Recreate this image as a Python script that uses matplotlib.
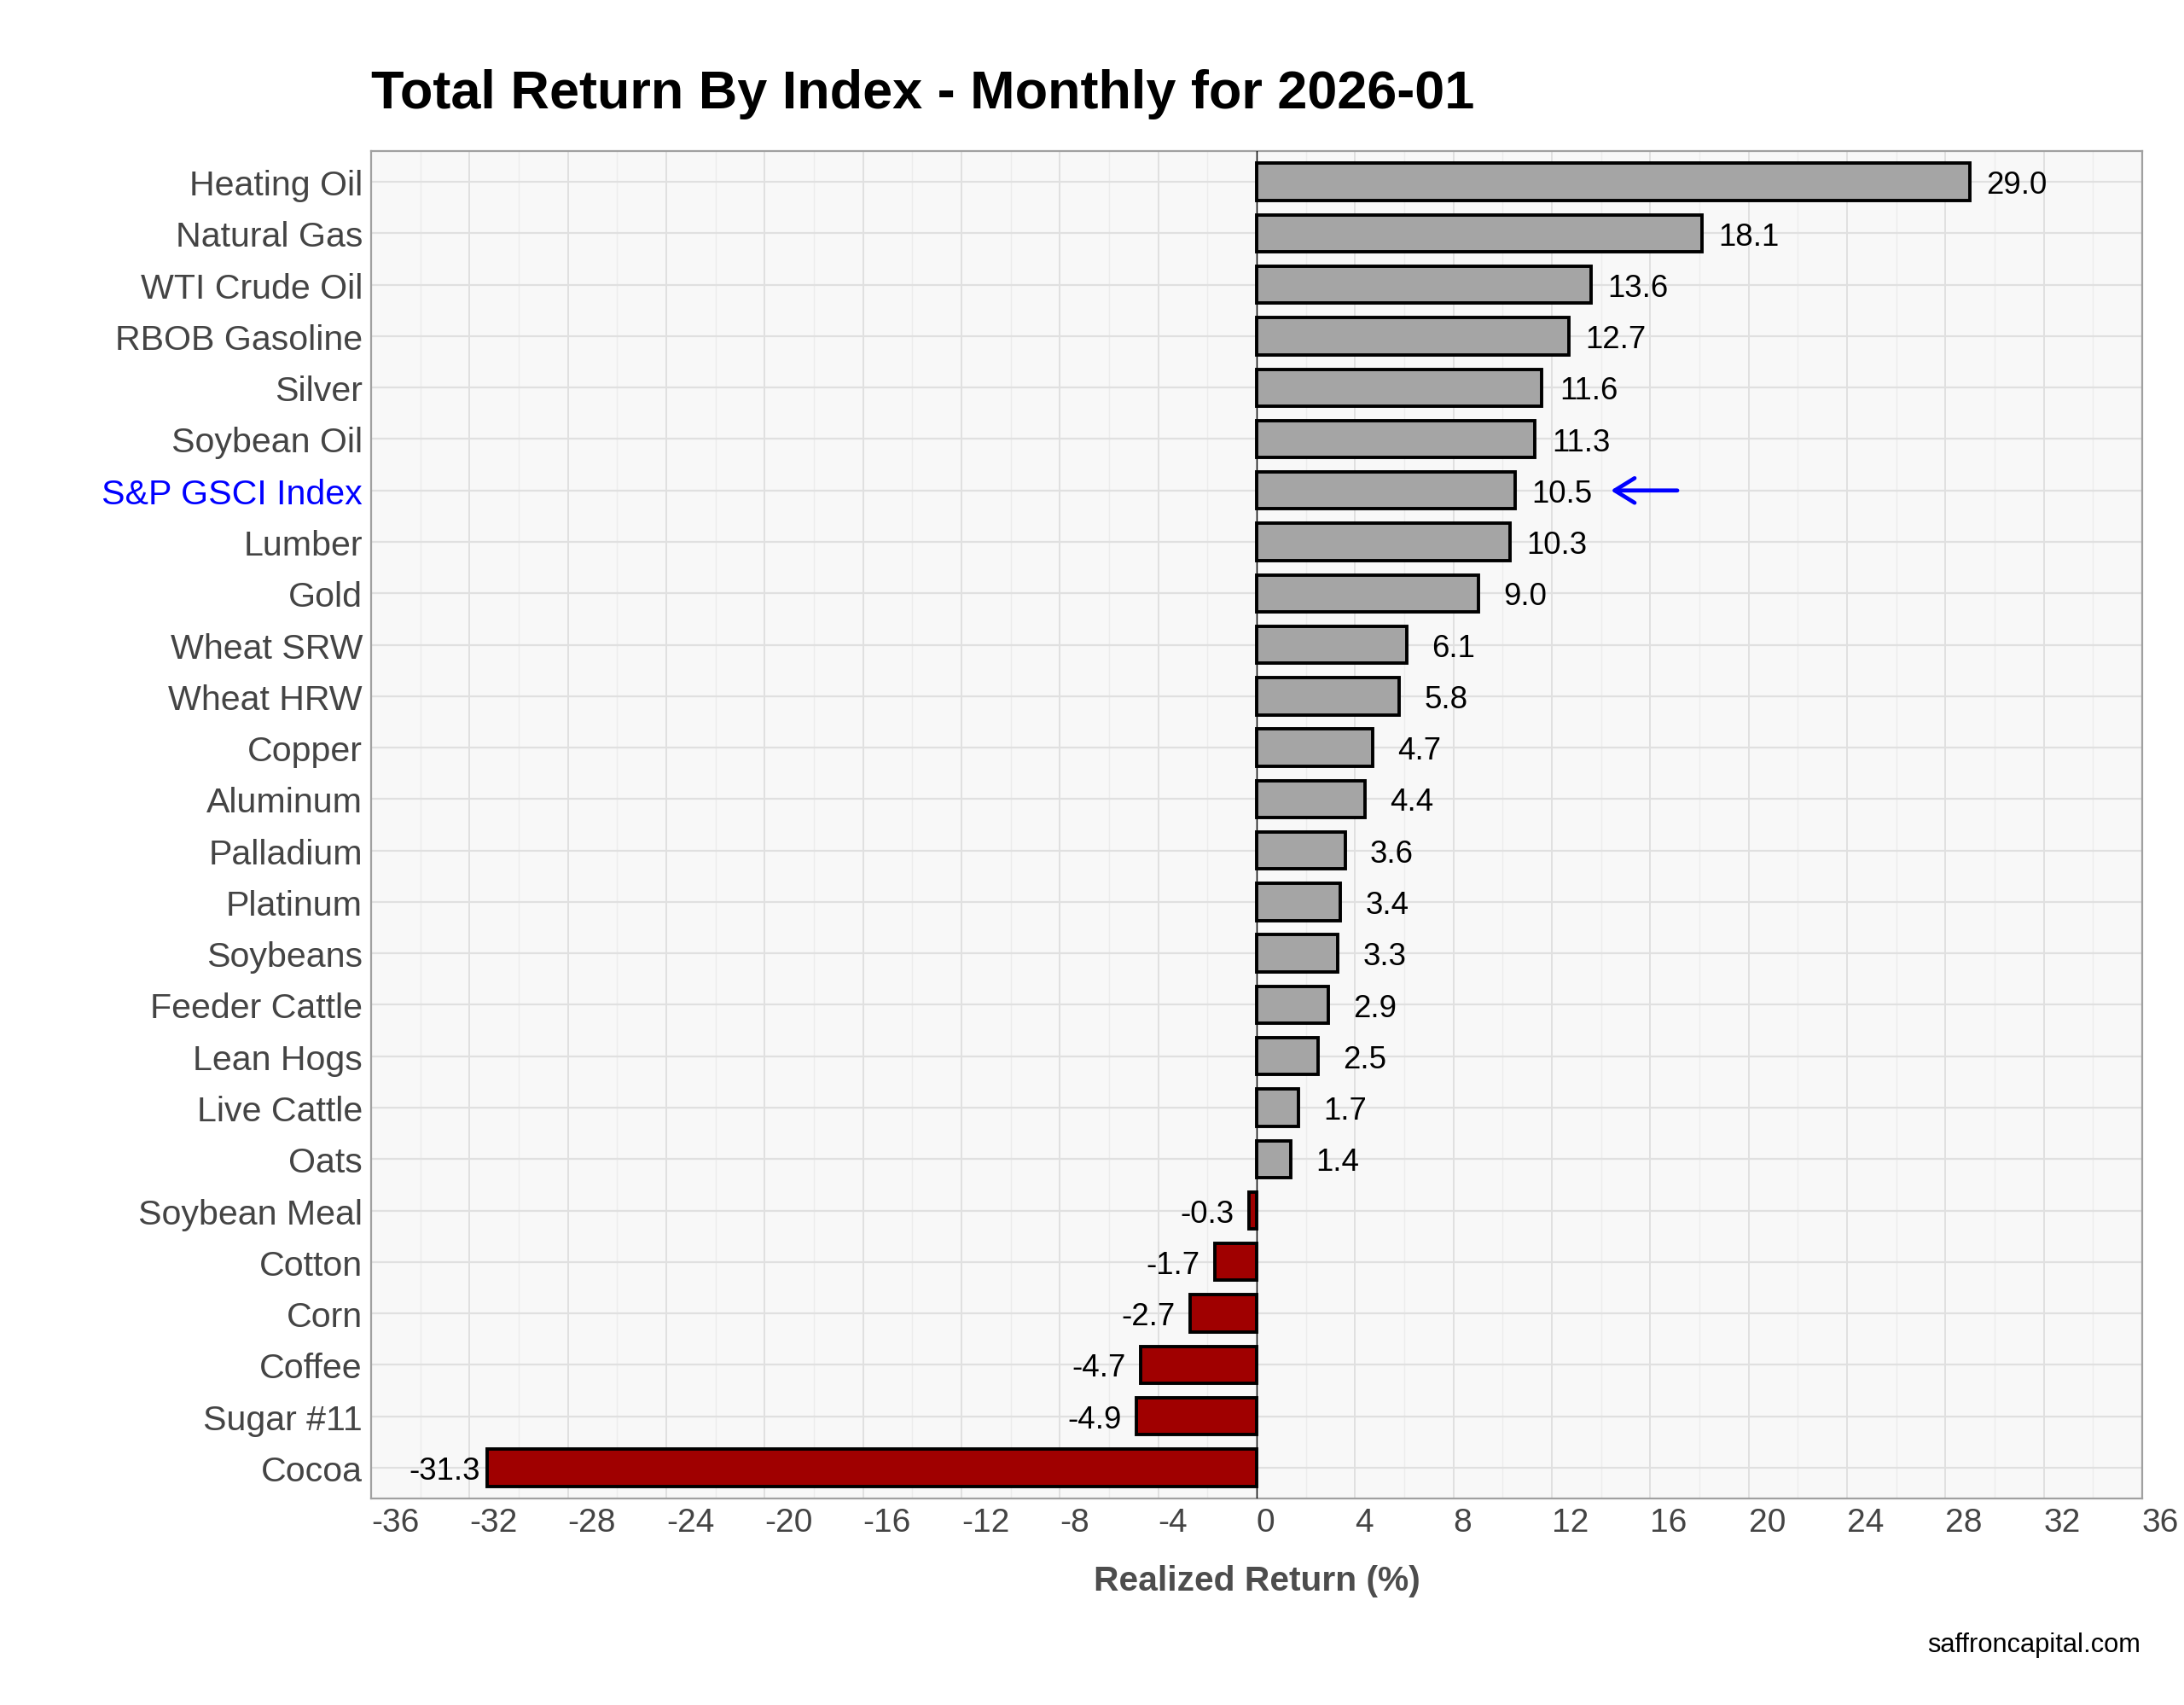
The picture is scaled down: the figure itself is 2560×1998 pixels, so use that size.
import numpy as np
import matplotlib
matplotlib.use("Agg")
import matplotlib.pyplot as plt
from matplotlib.patches import FancyArrowPatch

# ---- data (top to bottom) ----
names = ["Heating Oil", "Natural Gas", "WTI Crude Oil", "RBOB Gasoline", "Silver",
         "Soybean Oil", "S&P GSCI Index", "Lumber", "Gold", "Wheat SRW", "Wheat HRW",
         "Copper", "Aluminum", "Palladium", "Platinum", "Soybeans", "Feeder Cattle",
         "Lean Hogs", "Live Cattle", "Oats", "Soybean Meal", "Cotton", "Corn",
         "Coffee", "Sugar #11", "Cocoa"]
returns = [29.0, 18.1, 13.6, 12.7, 11.6, 11.3, 10.5, 10.3, 9.0, 6.1, 5.8,
           4.7, 4.4, 3.6, 3.4, 3.3, 2.9, 2.5, 1.7, 1.4, -0.3, -1.7, -2.7,
           -4.7, -4.9, -31.3]
highlight = "S&P GSCI Index"
x_ticks = list(range(-36, 37, 4))

plt.rcParams['font.family'] = ['Liberation Sans', 'DejaVu Sans']

W, H = 2560, 1999
fig = plt.figure(figsize=(W / 200, H / 200), dpi=200)
fig.patch.set_facecolor('white')

left, right, top, bottom = 435 / W, 2511 / W, 1 - 178 / H, 1 - 1757 / H
ax = fig.add_axes([left, bottom, right - left, top - bottom])
ax.set_facecolor('#f8f8f8')

n = len(names)
y = np.arange(n)
vals = np.array(returns)
colors = ['#a5a5a5' if v >= 0 else '#a00000' for v in vals]

# grid
for xm in np.arange(-34, 36, 4):
    ax.axvline(xm, color='#ececec', lw=0.5, zorder=0)
for xM in x_ticks:
    ax.axvline(xM, color='#e0e0e0', lw=0.7, zorder=0)
for yy in y:
    ax.axhline(yy, color='#e0e0e0', lw=0.8, zorder=0)

ax.barh(y, vals, height=0.72, color=colors, edgecolor='black', linewidth=1.4, zorder=2)
ax.axvline(0, color='black', lw=0.5, zorder=3)

# value labels
for yy, v in zip(y, vals):
    off = 1.9 if v >= 0 else -1.7
    ax.text(v + off, yy + 0.06, f"{v:.1f}", ha='center', va='center', fontsize=13.2,
            color='black', zorder=4)

# arrow to the index row
idx = names.index(highlight)
arr = FancyArrowPatch((17.1, idx), (14.4, idx),
                      arrowstyle='->,head_length=0.42,head_width=0.26',
                      mutation_scale=20, color='#0000ff', lw=1.7,
                      shrinkA=0, shrinkB=0, capstyle='round', zorder=5)
ax.add_patch(arr)

ax.set_xlim(-36, 36)
ax.set_ylim(n - 1 + 0.6, -0.6)
ax.set_xticks(x_ticks)
ax.set_xticklabels([str(t) for t in x_ticks])
for lab in ax.get_xticklabels():
    lab.set_horizontalalignment('left')
ax.set_yticks(y)
ax.set_yticklabels(names)
for lab in ax.get_yticklabels():
    lab.set_color('#0000ff' if lab.get_text() == highlight else '#444444')
ax.tick_params(axis='x', length=0, pad=3.5, labelsize=14, labelcolor='#444444')
ax.tick_params(axis='y', length=0, pad=3.6, labelsize=14.8)

for s in ax.spines.values():
    s.set_color('#a0a0a0')
    s.set_linewidth(0.8)

fig.text(left, 1 - 110 / H, "Total Return By Index - Monthly for 2026-01",
         fontsize=22.7, fontweight='bold', ha='left', va='center', color='black')
fig.text((left + right) / 2, 1 - 1853 / H, "Realized Return (%)",
         fontsize=14.7, fontweight='bold', ha='center', va='center', color='#4d4d4d')
fig.text(2509 / W, 1 - 1928 / H, "saffroncapital.com",
         fontsize=11.1, ha='right', va='center', color='black')

fig.savefig("out.png", dpi=200)
